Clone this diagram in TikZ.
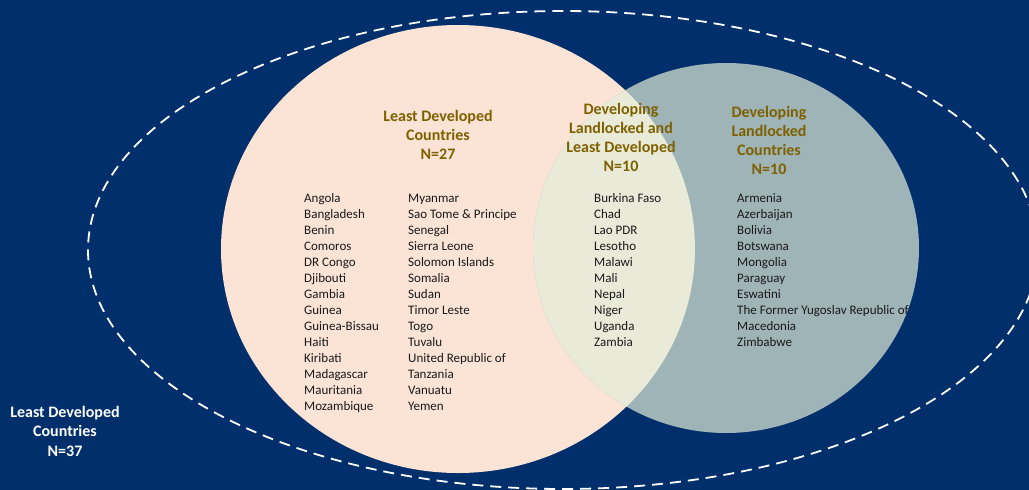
\documentclass[tikz,border=0pt]{standalone}
\usepackage{fontspec}
\setmainfont{Carlito}
\definecolor{navy}{RGB}{0,47,108}
\definecolor{ldcpink}{RGB}{251,228,214}
\definecolor{lldcgrey}{RGB}{159,180,183}
\definecolor{overlap}{RGB}{233,235,216}
\definecolor{gold}{RGB}{127,96,0}
% a top-aligned column whose baseline is the first line
\newcommand{\countrycol}[1]{\begin{tabular}[t]{@{}l@{}}#1\end{tabular}}
\begin{document}
\begin{tikzpicture}[x=1pt,y=-1pt,
  heading/.style={align=center,text=gold,font=\fontsize{16}{19}\selectfont\bfseries,inner sep=0pt},
  outerlabel/.style={align=center,text=white,font=\fontsize{16}{19.5}\selectfont\bfseries,inner sep=0pt},
  countrylist/.style={anchor=base west,text=black!90,font=\fontsize{13}{16}\selectfont,inner sep=0pt},
  boundary/.style={draw=white,line width=1.8pt,dash pattern=on 11pt off 7pt}]
  % canvas
  \fill[navy] (0,0) rectangle (1029,490);
  \useasboundingbox (0,0) rectangle (1029,490);
  % outer set: all least developed countries
  \draw[boundary] (563,250) ellipse [x radius=475pt, y radius=239pt];
  % the two overlapping sets
  \fill[ldcpink] (458,249) ellipse [x radius=237pt, y radius=224pt];
  \fill[lldcgrey] (726,248) ellipse [x radius=193pt, y radius=185pt];
  \begin{scope}
    \clip (458,249) ellipse [x radius=237pt, y radius=224pt];
    \fill[overlap] (726,248) ellipse [x radius=193pt, y radius=185pt];
  \end{scope}
  % headings
  \node[heading] (ldc) at (438,135) {Least Developed\\Countries\\N=27};
  \node[heading] (both) at (621,137.5) {Developing\\Landlocked and\\Least Developed\\N=10};
  \node[heading] (lldc) at (769,140) {Developing\\Landlocked\\Countries\\N=10};
  \node[outerlabel] (all) at (65,431) {Least Developed\\Countries\\N=37};
  % country lists
  \node[countrylist] (ldcA) at (304,202) {\countrycol{Angola\\Bangladesh\\Benin\\Comoros\\DR Congo\\Djibouti\\Gambia\\Guinea\\Guinea-Bissau\\Haiti\\Kiribati\\Madagascar\\Mauritania\\Mozambique}};
  \node[countrylist] (ldcB) at (408,202) {\countrycol{Myanmar\\Sao Tome \& Principe\\Senegal\\Sierra Leone\\Solomon Islands\\Somalia\\Sudan\\Timor Leste\\Togo\\Tuvalu\\United Republic of\\Tanzania\\Vanuatu\\Yemen}};
  \node[countrylist] (bothlist) at (594,202) {\countrycol{Burkina Faso\\Chad\\Lao PDR\\Lesotho\\Malawi\\Mali\\Nepal\\Niger\\Uganda\\Zambia}};
  \node[countrylist] (lldclist) at (737,202) {\countrycol{Armenia\\Azerbaijan\\Bolivia\\Botswana\\Mongolia\\Paraguay\\Eswatini\\The Former Yugoslav Republic of\\Macedonia\\Zimbabwe}};
\end{tikzpicture}
\end{document}
